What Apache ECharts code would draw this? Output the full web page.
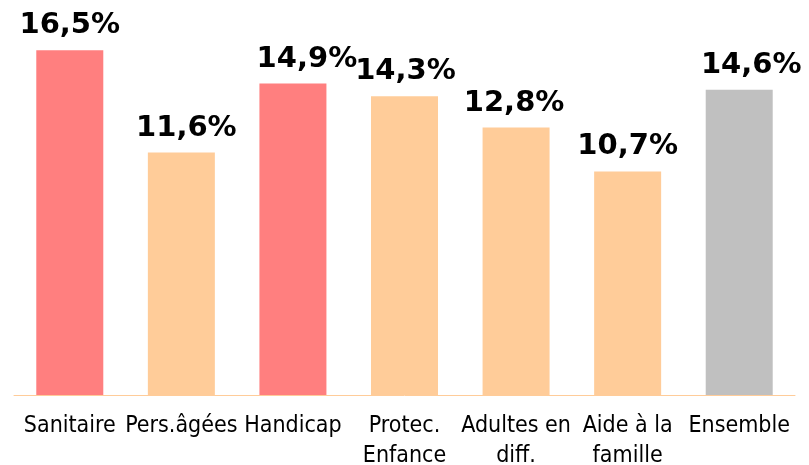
<!DOCTYPE html>
<html>
<head>
<meta charset="utf-8">
<script src="https://cdn.jsdelivr.net/npm/echarts@6/dist/echarts.min.js"></script>
<style>
  html, body { margin: 0; padding: 0; background: #fff; }
  #chart { width: 809px; height: 465px; }
</style>
</head>
<body>
<div id="chart"></div>
<script>
// categories and values
var categories = ['Sanitaire', 'Pers.âgées', 'Handicap', 'Protec.\nEnfance', 'Adultes en\ndiff.', 'Aide à la\nfamille', 'Ensemble'];
var values = [16.5, 11.6, 14.9, 14.3, 12.8, 10.7, 14.6];
var barColors = ['#FF7F7F', '#FFCC99', '#FF7F7F', '#FFCC99', '#FFCC99', '#FFCC99', '#C0C0C0'];
// small horizontal nudges of the value labels, as in the original
var labelNudge = [0, 5, 14, 1, -2, 0, 12];

var myChart = echarts.init(document.getElementById('chart'));

var data = values.map(function (v, i) {
    return {
        value: v,
        itemStyle: { color: barColors[i] },
        label: { offset: [labelNudge[i], 0] }
    };
});

myChart.setOption({
    animation: false,
    grid: { left: 14, right: 14, top: 0, bottom: 70, containLabel: false, outerBoundsMode: 'none' },
    xAxis: {
        type: 'category',
        data: categories,
        axisLine: { lineStyle: { color: '#FFCC99', width: 1 } },
        axisTick: { show: false },
        axisLabel: {
            interval: 0,
            margin: 16,
            color: '#000',
            fontFamily: '"DejaVu Sans Condensed", "DejaVu Sans", sans-serif',
            fontSize: 23,
            lineHeight: 30
        }
    },
    yAxis: {
        type: 'value',
        min: 0,
        max: 18.9,
        show: false,
        splitLine: { show: false }
    },
    series: [{
        type: 'bar',
        barWidth: 67,
        data: data,
        label: {
            show: true,
            position: 'top',
            distance: 10,
            color: '#000',
            fontFamily: '"DejaVu Sans", Verdana, sans-serif',
            fontWeight: 'bold',
            fontSize: 29,
            formatter: function (p) {
                return p.value.toFixed(1).replace('.', ',') + '%';
            }
        }
    }]
});
</script>
</body>
</html>
